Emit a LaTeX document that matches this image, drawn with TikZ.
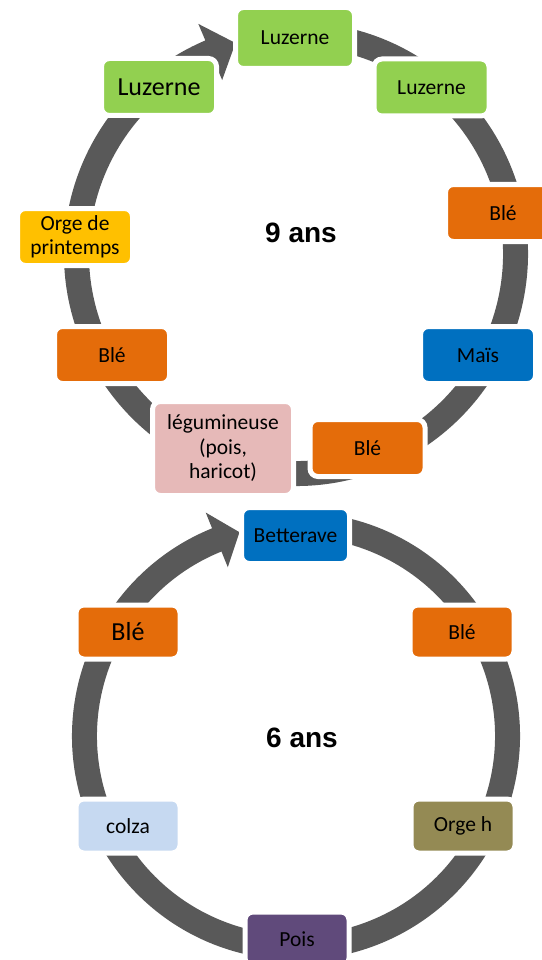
\documentclass[tikz,border=0pt]{standalone}
\usepackage{fontspec}
\setmainfont{Carlito}
\newfontfamily\yearsfont{Liberation Sans}
\definecolor{ringgray}{HTML}{595959}
\definecolor{luzgreen}{HTML}{92D050}
\definecolor{bleorange}{HTML}{E46C0A}
\definecolor{orgeyellow}{HTML}{FFC000}
\definecolor{maisblue}{HTML}{0070C0}
\definecolor{legpink}{HTML}{E6B9B8}
\definecolor{colzablue}{HTML}{C6D9F1}
\definecolor{orgeolive}{HTML}{948A54}
\definecolor{poispurple}{HTML}{604A7B}

\begin{document}
\begin{tikzpicture}[x=1pt,y=1pt]
\tikzset{crop/.style={draw=white,line width=5pt,rounded corners=8pt,inner sep=0pt,align=center,
  font=\fontsize{21.5}{24.5}\selectfont,minimum width=115pt,minimum height=57pt}}
\tikzset{smallcrop/.style={crop,minimum width=104pt,minimum height=54pt}}
\tikzset{bigtext/.style={font=\fontsize{26}{30}\selectfont}}
\tikzset{band/.style={fill=ringgray}}
\tikzset{years/.style={font=\yearsfont\bfseries\fontsize{28}{32}\selectfont}}
\useasboundingbox (0,0) rectangle (541,-960);

% rotation sur 9 ans
\coordinate (c9) at (296,-254);
\fill[band,shift={(c9)}] (80:232) arc[start angle=80,end angle=-247,radius=232]
  -- (-247:250) -- (-254:219.5) -- (-247:189) -- (-247:207)
  arc[start angle=-247,end angle=80,radius=207] -- cycle;
\node[crop,fill=luzgreen,minimum width=119pt,minimum height=61pt] (luz1) at (295,-38) {Luzerne};
\node[crop,fill=luzgreen] (luz2) at (431.5,-87.5) {Luzerne};
\node[crop,fill=bleorange] (ble1) at (503,-213) {Blé};
\node[crop,fill=maisblue] (mais) at (478,-355) {Maïs};
\node[crop,fill=bleorange] (ble2) at (367.5,-448) {Blé};
\node[crop,fill=legpink,minimum width=141pt,minimum height=94pt] (legum) at (223,-448.5) {légumineuse\\(pois,\\haricot)};
\node[crop,fill=bleorange] (ble3) at (112,-355) {Blé};
\node[crop,fill=orgeyellow] (orge) at (75,-237) {Orge de\\printemps};
\node[crop,fill=luzgreen,bigtext] (luz3) at (159,-87) {Luzerne};
\node[years] (ans9) at (301,-233) {9 ans};

% rotation sur 6 ans
\coordinate (c6) at (296,-736);
\fill[band,shift={(c6)}] (80:224) arc[start angle=80,end angle=-248,radius=224]
  -- (-248:241) -- (-254.5:211.5) -- (-248:182) -- (-248:199)
  arc[start angle=-248,end angle=80,radius=199] -- cycle;
\node[smallcrop,fill=maisblue,minimum width=108pt,minimum height=56pt] (bett) at (295.5,-535.5) {Betterave};
\node[smallcrop,fill=bleorange] (ble4) at (462,-632) {Blé};
\node[smallcrop,fill=orgeolive] (orgeh) at (463,-826) {Orge h};
\node[smallcrop,fill=poispurple] (pois) at (297,-939) {Pois};
\node[smallcrop,fill=colzablue] (colza) at (128,-826) {colza};
\node[smallcrop,fill=bleorange,bigtext] (ble5) at (128,-632) {Blé};
\node[years] (ans6) at (302,-738) {6 ans};
\end{tikzpicture}
\end{document}
